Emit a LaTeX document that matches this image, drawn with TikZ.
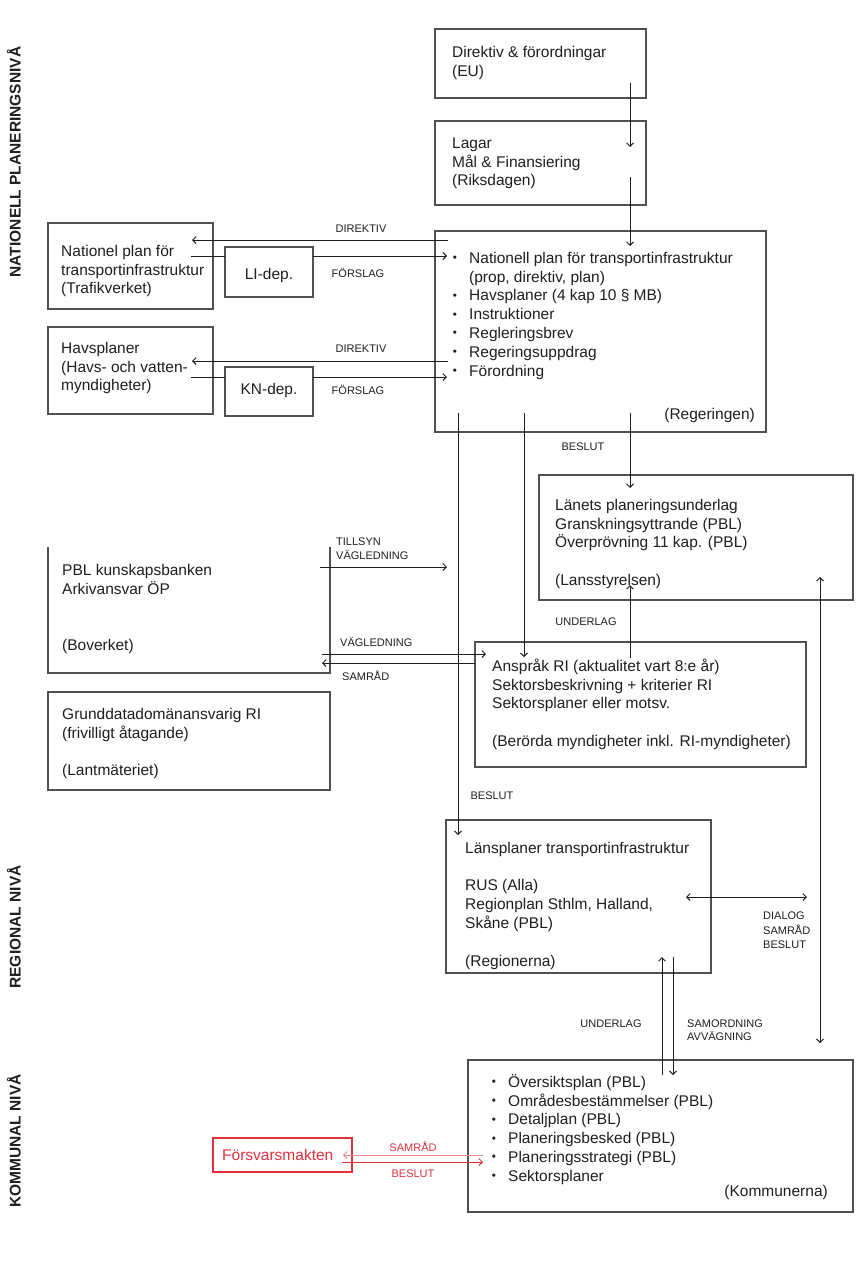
\documentclass[tikz,border=0pt]{standalone}
\usepackage{fontspec}
\setmainfont{Liberation Sans}
\usetikzlibrary{arrows.meta}
\definecolor{ink}{HTML}{1E1E1E}
\definecolor{boxc}{HTML}{505050}
\definecolor{redc}{HTML}{E0303C}
\definecolor{pinkc}{HTML}{EE8C96}
\newcommand\topstrut{\rule{0pt}{16pt}}
\newcommand\bul{\raisebox{1.6pt}{\scalebox{0.75}{•}}}
\begin{document}
\begin{tikzpicture}[x=1pt,y=-1pt,
  box/.style={draw=boxc, line width=1.1pt, inner sep=0pt, outer sep=0pt, anchor=north west},
  txt/.style={font=\fontsize{15.5}{18.8}\selectfont, text=ink, inner sep=0pt, anchor=north west, align=left},
  btxt/.style={font=\fontsize{15.5}{18.8}\selectfont, text=ink, inner sep=0pt, anchor=north, align=center},
  one/.style={font=\fontsize{15.5}{18.8}\selectfont, text=ink, inner sep=0pt},
  lab/.style={font=\fontsize{11}{14}\selectfont, text=ink, inner sep=0pt, text height=8pt, text depth=0pt},
  lvl/.style={font=\bfseries\fontsize{15.5}{18}\selectfont, text=ink, inner sep=0pt, rotate=90, text height=11pt, text depth=0pt},
  conn/.style={draw=ink, line width=0.9pt},
  arr/.style={conn, -{Straight Barb[length=3.5pt,width=7pt]}},
  darr/.style={conn, {Straight Barb[length=3.5pt,width=7pt]}-{Straight Barb[length=3.5pt,width=7pt]}}
]
\useasboundingbox (0,0) rectangle (860,1261);

% level labels
\node[lvl] (lvlnat) at (15,162) {NATIONELL PLANERINGSNIVÅ};
\node[lvl] (lvlreg) at (15,927) {REGIONAL NIVÅ};
\node[lvl] (lvlkom) at (15,1141) {KOMMUNAL NIVÅ};

% boxes
\node[box, minimum width=211, minimum height=69] (eu) at (435,29) {};
\node[box, minimum width=211, minimum height=84] (riks) at (435,121) {};
\node[box, minimum width=331, minimum height=201] (reg) at (435,231) {};
\node[box, minimum width=165, minimum height=86] (traf) at (48,223) {};
\node[box, minimum width=88, minimum height=50] (li) at (225,247) {};
\node[box, minimum width=165, minimum height=87] (hav) at (48,327) {};
\node[box, minimum width=88, minimum height=49] (kn) at (225,367) {};
\node[box, minimum width=314, minimum height=125] (lans) at (539,475) {};
\node[box, draw=none, minimum width=282, minimum height=126] (bov) at (48,547) {};
\draw[draw=boxc, line width=1.1pt] (bov.north west) |- (bov.south east) -- (bov.north east);
\node[box, minimum width=282, minimum height=98] (lant) at (48,692) {};
\node[box, minimum width=331, minimum height=125] (ber) at (475,642) {};
\node[box, minimum width=265, minimum height=153] (regn) at (446,820) {};
\node[box, minimum width=385, minimum height=152] (komm) at (468,1060) {};
\node[box, draw=redc, minimum width=139, minimum height=34] (forsv) at (213,1138) {};

% texts
\node[txt] (euT) at (452,41) {\topstrut Direktiv \& förordningar\\(EU)};
\node[txt] (riksT) at (452,132) {\topstrut Lagar\\Mål \& Finansiering\\(Riksdagen)};
\node[btxt] (regB) at (455,247) {\topstrut\bul\\[18.8pt]\bul\\\bul\\\bul\\\bul\\\bul};
\node[txt] (regT) at (469,247) {\topstrut Nationell plan för transportinfrastruktur\\(prop, direktiv, plan)\\Havsplaner (4 kap 10 § MB)\\Instruktioner\\Regleringsbrev\\Regeringsuppdrag\\Förordning};
\node[one, anchor=base east] (regR) at (755,419) {(Regeringen)};
\node[txt] (trafT) at (61,240) {\topstrut Nationel plan för\\transportinfrastruktur\\(Trafikverket)};
\node[txt] (havT) at (61,337) {\topstrut Havsplaner\\(Havs- och vatten-\\myndigheter)};
\node[one, anchor=base] (liT) at (269,279) {LI-dep.};
\node[one, anchor=base] (knT) at (269,394) {KN-dep.};
\node[txt] (lansT) at (555,494) {\topstrut Länets planeringsunderlag\\Granskningsyttrande (PBL)\\Överprövning 11 kap. (PBL)\\[18.8pt](Lansstyrelsen)};
\node[txt] (bovT) at (62,559) {\topstrut PBL kunskapsbanken\\Arkivansvar ÖP\\[37.6pt](Boverket)};
\node[txt] (lantT) at (62,703) {\topstrut Grunddatadomänansvarig RI\\(frivilligt åtagande)\\[18.8pt](Lantmäteriet)};
\node[txt] (berT) at (492,655) {\topstrut Anspråk RI (aktualitet vart 8:e år)\\Sektorsbeskrivning + kriterier RI\\Sektorsplaner eller motsv.\\[18.8pt](Berörda myndigheter inkl. RI-myndigheter)};
\node[txt] (regnT) at (465,837) {\topstrut Länsplaner transportinfrastruktur\\[18.8pt]RUS (Alla)\\Regionplan Sthlm, Halland,\\Skåne (PBL)\\[18.8pt](Regionerna)};
\node[btxt] (kommB) at (494,1071) {\topstrut\bul\\\bul\\\bul\\\bul\\\bul\\\bul};
\node[txt] (kommT) at (508,1071) {\topstrut Översiktsplan (PBL)\\Områdesbestämmelser (PBL)\\Detaljplan (PBL)\\Planeringsbesked (PBL)\\Planeringsstrategi (PBL)\\Sektorsplaner};
\node[one, anchor=base east] (kommR) at (828,1196) {(Kommunerna)};
\node[one, anchor=base west, text=redc] (forsvT) at (222,1160) {Försvarsmakten};

% connector end points
\coordinate (a1) at (630,83);   \coordinate (a2) at (630,147);
\coordinate (b1) at (630,177);  \coordinate (b2) at (630,246);
\coordinate (d1s) at (448,240); \coordinate (d1e) at (192,240);
\coordinate (f1s) at (191,256); \coordinate (f1e) at (447,256);
\coordinate (d2s) at (448,361); \coordinate (d2e) at (192,361);
\coordinate (f2s) at (191,377); \coordinate (f2e) at (447,377);
\coordinate (r1s) at (458,413); \coordinate (r1e) at (458,835);
\coordinate (r2s) at (524,413); \coordinate (r2e) at (524,657);
\coordinate (r3s) at (630,413); \coordinate (r3e) at (630,488);
\coordinate (u1s) at (630,658); \coordinate (u1e) at (630,585);
\coordinate (v1s) at (820,577); \coordinate (v1e) at (820,1043);
\coordinate (dl1) at (686,897); \coordinate (dl2) at (807,897);
\coordinate (t1s) at (320,567); \coordinate (t1e) at (447,567);
\coordinate (g1s) at (322,654); \coordinate (g1e) at (486,654);
\coordinate (s1e) at (322,663);
\coordinate (u2s) at (662,1075); \coordinate (u2e) at (662,957);
\coordinate (m1s) at (673,957); \coordinate (m1e) at (673,1075);
\coordinate (p1s) at (483,1155); \coordinate (p1e) at (343,1155);
\coordinate (q1s) at (342,1162); \coordinate (q1e) at (483,1162);

% connectors
\draw[arr] (a1) -- (a2);
\draw[arr] (b1) -- (b2);
\draw[arr] (d1s) -- (d1e);
\draw[conn] (f1s) -- (f1s -| li.west);
\draw[arr] (f1e -| li.east) -- (f1e);
\draw[arr] (d2s) -- (d2e);
\draw[conn] (f2s) -- (f2s -| kn.west);
\draw[arr] (f2e -| kn.east) -- (f2e);
\draw[arr] (r1s) -- (r1e);
\draw[arr] (r2s) -- (r2e);
\draw[arr] (r3s) -- (r3e);
\draw[arr] (u1s) -- (u1e);
\draw[darr] (v1s) -- (v1e);
\draw[darr] (dl1) -- (dl2);
\draw[arr] (t1s) -- (t1e);
\draw[arr] (g1s) -- (g1e);
\draw[arr] (s1e -| ber.west) -- (s1e);
\draw[arr] (u2s) -- (u2e);
\draw[arr] (m1s) -- (m1e);
\draw[arr, draw=pinkc] (p1s) -- (p1e);
\draw[arr, draw=redc] (q1s) -- (q1e);

% labels
\node[lab] (dir1L) at (361,228) {DIREKTIV};
\node[lab] (for1L) at (358,273) {FÖRSLAG};
\node[lab] (dir2L) at (361,348) {DIREKTIV};
\node[lab] (for2L) at (358,390) {FÖRSLAG};
\node[lab] (bes1L) at (583,446) {BESLUT};
\node[lab, anchor=west] (tilL) at (336,541) {TILLSYN};
\node[lab, anchor=west] (vag1L) at (336,555) {VÄGLEDNING};
\node[lab, anchor=west] (vag2L) at (340,642) {VÄGLEDNING};
\node[lab, anchor=west] (sam1L) at (342,676) {SAMRÅD};
\node[lab] (und1L) at (586,621) {UNDERLAG};
\node[lab] (bes2L) at (492,795) {BESLUT};
\node[lab, anchor=west] (diaL) at (763,915) {DIALOG};
\node[lab, anchor=west] (sam2L) at (763,930) {SAMRÅD};
\node[lab, anchor=west] (bes3L) at (763,944) {BESLUT};
\node[lab] (und2L) at (611,1023) {UNDERLAG};
\node[lab, anchor=west] (samoL) at (687,1023) {SAMORDNING};
\node[lab, anchor=west] (avvL) at (687,1036) {AVVÄGNING};
\node[lab, text=redc] (sam3L) at (413,1147) {SAMRÅD};
\node[lab, text=redc] (bes4L) at (413,1173) {BESLUT};
\end{tikzpicture}
\end{document}
